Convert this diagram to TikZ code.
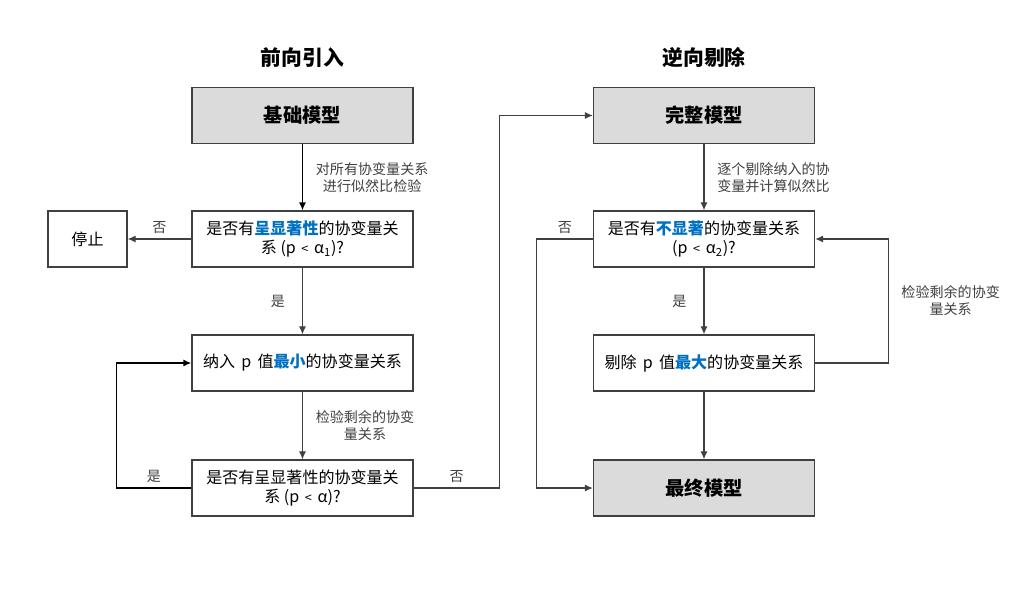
\documentclass[tikz,border=0pt]{standalone}
\usepackage{fontspec}
\setmainfont{Noto Sans CJK SC}
\usepackage{xcolor}
\usetikzlibrary{arrows.meta,positioning,calc}
\definecolor{hiblue}{HTML}{0070C0}
\definecolor{linegray}{HTML}{404040}
\newcommand{\hl}[1]{\textcolor{hiblue}{\bfseries #1}}
\newcommand{\lessthan}{\hspace{0.35em}{\small <}\hspace{0.35em}}

\begin{document}
\begin{tikzpicture}[
  x=0.025cm, y=-0.025cm,
  font=\fontsize{11.4}{14}\selectfont,
  block/.style={draw=linegray, line width=0.9pt, align=center, minimum width=5.525cm, minimum height=1.4cm, inner sep=2pt},
  model/.style={block, fill=gray!28, font=\fontsize{13.7}{16}\selectfont\bfseries},
  title/.style={font=\fontsize{14.8}{18}\selectfont\bfseries},
  wire/.style={-{Latex[length=2mm, width=1.8mm]}, color=linegray, line width=0.9pt},
  mainwire/.style={wire, color=black, line width=1.1pt},
  note/.style={align=center, font=\fontsize{10}{12}\selectfont, text=linegray},
  sidenote/.style={note, inner xsep=9pt}
]
\useasboundingbox (0,0) rectangle (1021,605);

\node[title] (fwdtitle) at (302.5,58) {前向引入};
\node[title] (bwdtitle) at (704,58) {逆向剔除};

\node[model] (base) at (302.5,115.5) {基础模型};
\node[block] (sig) at (302.5,239) {是否有\hl{呈显著性}的协变量关\\系 (p\lessthan α\textsubscript{1})?};
\node[block, minimum width=1.975cm] (stop) at (87.5,239) {停止};
\node[block] (add) at (302.5,363) {纳入\ \,p\ \,值\hl{最小}的协变量关系};
\node[block] (sigagain) at (302.5,488) {是否有呈显著性的协变量关\\系 (p\lessthan α)?};

\node[model] (full) at (704,115.5) {完整模型};
\node[block] (nonsig) at (704,239) {是否有\hl{不显著}的协变量关系\\(p\lessthan α\textsubscript{2})?};
\node[block] (remove) at (704,363) {剔除\ \,p\ \,值\hl{最大}的协变量关系};
\node[model] (final) at (704,488) {最终模型};

% forward selection
\draw[mainwire] (base) -- node[right, sidenote]{对所有协变量关系\\进行似然比检验} (sig);
\draw[wire] (sig) -- node[above, note]{否} (stop);
\draw[wire] (sig) -- node[left, sidenote, xshift=-3pt]{是} (add);
\draw[wire] (add) -- node[right, sidenote]{检验剩余的协变\\量关系} (sigagain);
\draw[mainwire] (sigagain.west) -- ++(-75,0) node[midway, above, note]{是} |- (add.west);
\draw[wire] (sigagain.east) -- ++(86,0) node[midway, above, note]{否} |- (full.west);

% backward elimination
\draw[wire] (full) -- node[right, sidenote]{逐个剔除纳入的协\\变量并计算似然比} (nonsig);
\draw[wire] (nonsig) -- node[left, sidenote, xshift=-3pt]{是} (remove);
\draw[wire] (remove.east) -- ++(73,0) |- node[pos=0.25, right, sidenote]{检验剩余的协变\\量关系} (nonsig.east);
\draw[wire] (nonsig.west) -- ++(-56,0) node[midway, above, note]{否} |- (final.west);
\draw[wire] (remove) -- (final);

\end{tikzpicture}
\end{document}
